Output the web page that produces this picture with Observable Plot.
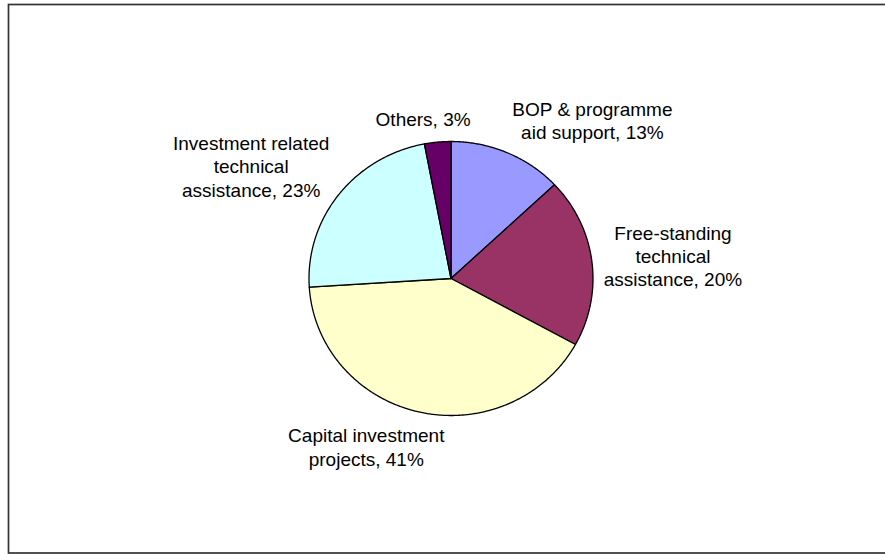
<!DOCTYPE html>
<html>
<head>
<meta charset="utf-8">
<script src="https://cdn.jsdelivr.net/npm/d3@7"></script>
<script src="https://cdn.jsdelivr.net/npm/@observablehq/plot@0.6"></script>
<style>
  html, body { margin: 0; padding: 0; background: #fff; overflow: hidden; }
  #chart svg { display: block; }
</style>
</head>
<body>
<div id="chart"></div>
<script>
// ---- data ----
const categories = [
  "BOP & programme aid support",
  "Free-standing technical assistance",
  "Capital investment projects",
  "Investment related technical assistance",
  "Others"
];
const shares = [13, 20, 41, 23, 3];
const labelNames = [
  "BOP & programme\naid support",
  "Free-standing\ntechnical\nassistance",
  "Capital investment\nprojects",
  "Investment related\ntechnical\nassistance",
  "Others"
];
const colors = ["#9999FF", "#993366", "#FFFFCC", "#CCFFFF", "#660066"];

// ---- layout ----
const W = 885, H = 554;
const cx = 450.5, cy = 278, rx = 142, ry = 137;
const fontSize = 19, lineH = 23.3, gap = 12;
const fontFamily = "'Liberation Sans', Arial, Helvetica, sans-serif";

const pie = d3.pie().sort(null).value(d => d)(shares);

// slice outlines in unit coordinates (x right, y up)
const slicePts = [];
pie.forEach((p, i) => {
  const cat = categories[i];
  const a0 = p.startAngle, a1 = p.endAngle;
  const n = Math.max(2, Math.ceil((a1 - a0) / (Math.PI / 360)));
  slicePts.push({cat, x: 0, y: 0});
  for (let k = 0; k <= n; k++) {
    const a = a0 + (a1 - a0) * k / n;
    slicePts.push({cat, x: Math.sin(a), y: Math.cos(a)});
  }
  slicePts.push({cat, x: 0, y: 0});
});

// label placement (Excel-like outside labels)
const ctx = document.createElement("canvas").getContext("2d");
ctx.font = `${fontSize}px ${fontFamily}`;
const labels = pie.map((p, i) => {
  const text = `${labelNames[i]}, ${shares[i]}%`;
  const lines = text.split("\n");
  const w = Math.max(...lines.map(l => ctx.measureText(l).width));
  const h = lines.length * lineH;
  const mid = (p.startAngle + p.endAngle) / 2;
  const dx = Math.sin(mid), dy = -Math.cos(mid); // screen direction
  const px = cx + dx * (rx + gap), py = cy + dy * (ry + gap);
  const sx = Math.max(-1, Math.min(1, 3 * dx));
  const sy = dy;
  const lx = px + sx * w / 2, ly = py + sy * h / 2;
  return {text, x: (lx - cx) / rx, y: (cy - ly) / ry};
});

const chart = Plot.plot({
  width: W,
  height: H,
  margin: 0,
  style: {fontFamily, fontSize: fontSize + "px", background: "#fff", color: "#000"},
  x: {axis: null, domain: [-cx / rx, (W - cx) / rx], range: [0, W]},
  y: {axis: null, domain: [-(H - cy) / ry, cy / ry], range: [H, 0]},
  color: {domain: categories, range: colors},
  marks: [
    Plot.frame({stroke: "#333", strokeWidth: 1.7, insetLeft: 8, insetTop: 4, insetBottom: 1.5, insetRight: -10}),
    Plot.line(slicePts, {
      x: "x", y: "y", z: "cat", fill: "cat",
      stroke: "#000", strokeWidth: 1.3, strokeLinejoin: "round", curve: "linear"
    }),
    Plot.text(labels, {
      x: "x", y: "y", text: "text",
      fontSize, lineHeight: lineH / fontSize,
      textAnchor: "middle", lineAnchor: "middle", fill: "#000"
    })
  ]
});
document.getElementById("chart").append(chart);
</script>
</body>
</html>
